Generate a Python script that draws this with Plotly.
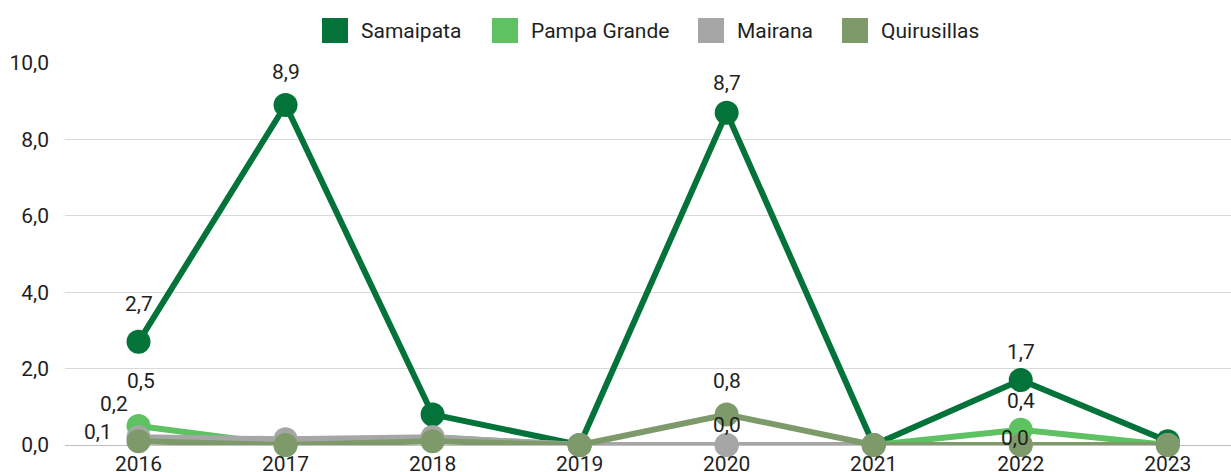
import plotly.graph_objects as go

# data
years = ['2016', '2017', '2018', '2019', '2020', '2021', '2022', '2023']
samaipata = [2.7, 8.9, 0.8, 0.0, 8.7, 0.0, 1.7, 0.1]
pampa_grande = [0.5, 0.0, 0.2, 0.0, 0.0, 0.0, 0.4, 0.0]
mairana = [0.2, 0.15, 0.2, 0.0, 0.0, 0.0, 0.0, 0.0]
quirusillas = [0.1, 0.0, 0.1, 0.0, 0.8, 0.0, 0.0, 0.0]

y_ticks = [0, 2, 4, 6, 8, 10]

FONT = 'Roboto'
TXT = '#1f1f1f'
W, H = 1231, 472
ML, MR, MT, MB = 65, 0, 63, 27
PW, PH = W - ML - MR, H - MT - MB

series = [
    ('Samaipata', samaipata, '#03733a'),
    ('Pampa Grande', pampa_grande, '#5ec262'),
    ('Mairana', mairana, '#a6a6a6'),
    ('Quirusillas', quirusillas, '#7e9a6a'),
]

fig = go.Figure()

for name, vals, color in series:
    fig.add_trace(go.Scatter(
        x=years, y=vals, mode='lines+markers', name=name,
        line=dict(color=color, width=6),
        marker=dict(color=color, size=24),
        cliponaxis=False, showlegend=False
    ))

# visible data labels, with pixel offsets as in the original
labels = [
    (samaipata, 0, 0, 38), (samaipata, 1, 0, 33), (samaipata, 4, 0, 30), (samaipata, 6, 0, 28),
    (pampa_grande, 0, 2, 45), (mairana, 0, -25, 33), (quirusillas, 0, -41, 9),
    (quirusillas, 4, 0, 33), (mairana, 4, 0, 20),
    (pampa_grande, 6, 0, 29), (mairana, 6, -6, 7),
]
for vals, i, dx, dy in labels:
    fig.add_annotation(
        x=i, y=vals[i], text=f'{vals[i]:.1f}'.replace('.', ','),
        showarrow=False, xshift=dx, yshift=dy,
        font=dict(family=FONT, size=21, color=TXT)
    )

# legend drawn as square swatches + labels (pixel positions of the original)
legend_px = [322, 492, 698, 842]
leg_y = 1 + (MT - 30.5) / PH
for (name, vals, color), px in zip(series, legend_px):
    fig.add_annotation(
        xref='paper', yref='paper', x=(px - ML) / PW, y=leg_y,
        xanchor='left', yanchor='middle', text=' ', showarrow=False,
        width=26, height=25, bgcolor=color, borderpad=0, borderwidth=0
    )
    fig.add_annotation(
        xref='paper', yref='paper', x=(px + 37 - ML) / PW, y=leg_y,
        xanchor='left', yanchor='middle', text=name, showarrow=False,
        font=dict(family=FONT, size=21, color=TXT)
    )

fig.update_layout(
    width=W, height=H,
    paper_bgcolor='white', plot_bgcolor='white',
    margin=dict(l=ML, r=MR, t=MT, b=MB, autoexpand=False),
    separators=',.',
    font=dict(family=FONT, size=21, color=TXT),
    showlegend=False,
    xaxis=dict(
        type='category', range=[-0.5, 7.43], showgrid=False, zeroline=False,
        showline=False, tickfont=dict(family=FONT, size=21, color=TXT),
        ticklabelstandoff=4
    ),
    yaxis=dict(
        range=[0, 10], tickvals=y_ticks, tickformat='.1f',
        showgrid=True, gridcolor='#d9d9d9', gridwidth=1,
        zeroline=True, zerolinecolor='#bfbfbf', zerolinewidth=1,
        tickfont=dict(family=FONT, size=21, color=TXT),
        ticklabelstandoff=15
    ),
)

fig.write_html('out.html', config={'displayModeBar': False},
               post_script="document.body.style.margin='0';")
